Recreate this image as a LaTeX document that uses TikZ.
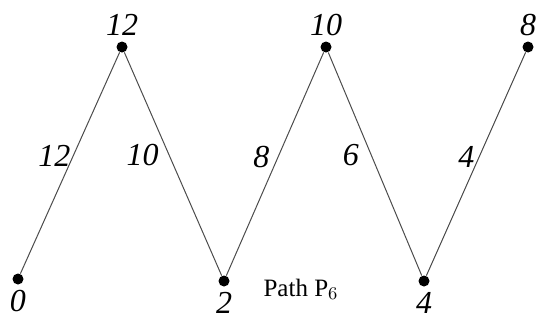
\documentclass[tikz,border=0pt]{standalone}
\usepackage{fontspec}
\setmainfont{Liberation Serif}
\usetikzlibrary{positioning}

\begin{document}
\begin{tikzpicture}[x=0.5pt, y=-0.5pt,
vertex/.style={circle, fill=black, inner sep=0pt, minimum size=5.5pt},
vlabel/.style={font=\fontsize{16}{18}\selectfont\itshape, inner sep=1pt},
elabel/.style={font=\fontsize{16}{18}\selectfont\itshape, inner sep=1pt},
edge/.style={draw=black!70, line width=0.5pt}]
\useasboundingbox (0,0) rectangle (550,322);
\node[vertex] (v0) at (18,279)  {};
\node[vertex] (v1) at (122,47)  {};
\node[vertex] (v2) at (224,281) {};
\node[vertex] (v3) at (326,47)  {};
\node[vertex] (v4) at (424,281) {};
\node[vertex] (v5) at (528,47)  {};
\node[vlabel, below=1.5pt of v0] (l0) {0};
\node[vlabel, above=1.5pt of v1] (l1) {12};
\node[vlabel, below=1.5pt of v2] (l2) {2};
\node[vlabel, above=1.5pt of v3] (l3) {10};
\node[vlabel, below=1.5pt of v4] (l4) {4};
\node[vlabel, above=1.5pt of v5] (l5) {8};
\draw[edge] (v0) -- node[elabel, pos=0.53, left=0pt] {12} (v1);
\draw[edge] (v1) -- node[elabel, pos=0.46, left=4pt] {10} (v2);
\draw[edge] (v2) -- node[elabel, pos=0.53, left=3pt] {8} (v3);
\draw[edge] (v3) -- node[elabel, pos=0.46, left=5pt] {6} (v4);
\draw[edge] (v4) -- node[elabel, pos=0.53, left=1pt] {4} (v5);
\node[font=\fontsize{12.5}{14}\selectfont, anchor=base] (title) at (301,296) {Path P$_6$};
\end{tikzpicture}
\end{document}
